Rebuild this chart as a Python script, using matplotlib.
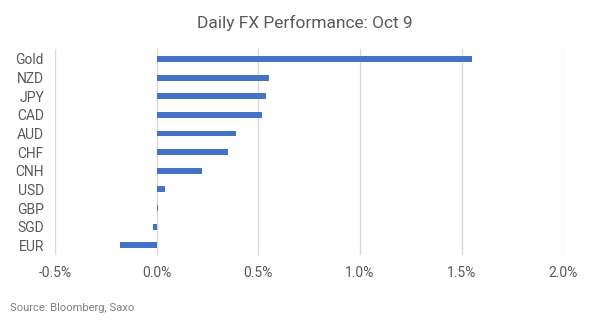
import matplotlib
matplotlib.use("Agg")
import matplotlib.pyplot as plt
from matplotlib.ticker import FuncFormatter

plt.rcParams["font.family"] = ["Roboto", "DejaVu Sans"]

# Daily % change, top to bottom
currencies = ["Gold", "NZD", "JPY", "CAD", "AUD", "CHF", "CNH", "USD", "GBP", "SGD", "EUR"]
change_pct = [1.55, 0.55, 0.54, 0.52, 0.39, 0.35, 0.225, 0.043, 0.007, -0.016, -0.18]
x_ticks = [-0.5, 0.0, 0.5, 1.0, 1.5, 2.0]

text_color = "#595959"

fig = plt.figure(figsize=(6.1, 3.24), dpi=100)
ax = fig.add_axes([0.0902, 0.213, 0.8333, 0.636])

pos = list(range(len(currencies)))
ax.barh(pos, change_pct, height=0.32, color="#4472C4", zorder=3)

ax.set_xlim(-0.5, 2.0)
ax.set_ylim(len(currencies) - 0.48, -0.54)
ax.set_xticks(x_ticks)
ax.xaxis.set_major_formatter(FuncFormatter(lambda v, _: f"{v:.1f}%"))
ax.set_yticks(pos)
ax.set_yticklabels(currencies)

ax.grid(axis="x", color="#d9d9d9", linewidth=1.0, zorder=0)
for s in ax.spines.values():
    s.set_visible(False)
ax.tick_params(axis="both", length=0, labelsize=10, labelcolor=text_color)
ax.tick_params(axis="x", pad=8)
ax.tick_params(axis="y", pad=8)

fig.text(0.5, 0.93, "Daily FX Performance: Oct 9", ha="center", va="center",
         fontsize=12.5, color=text_color)
fig.text(0.016, 0.05, "Source: Bloomberg, Saxo", ha="left", va="center",
         fontsize=8, color="#7f7f7f")

fig.savefig("out.png", dpi=100)
